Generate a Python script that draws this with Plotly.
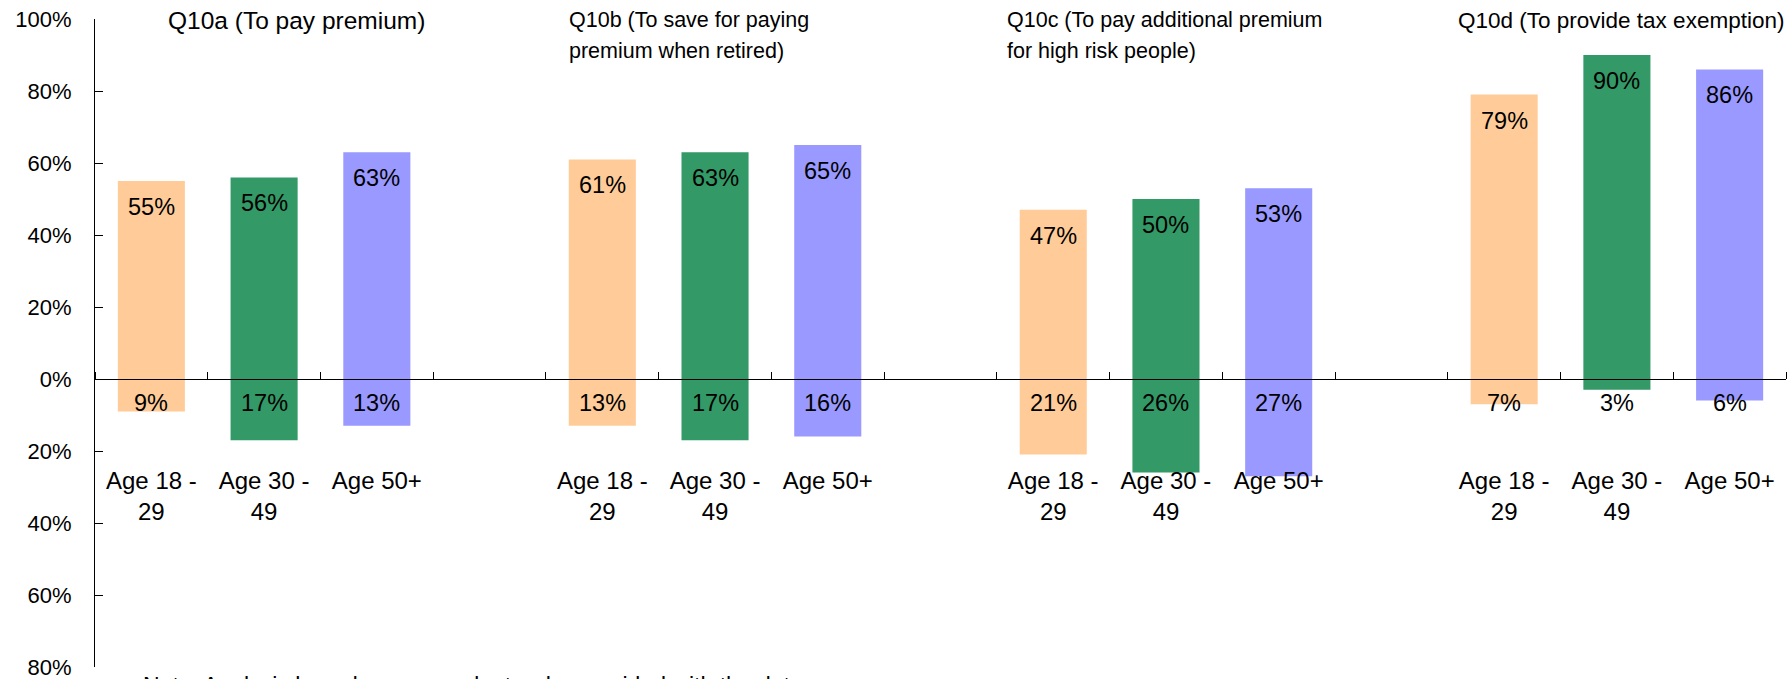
import plotly.graph_objects as go

# ---- data ----
questions = [["Q10a (To pay premium)"],
             ["Q10b (To save for paying", "premium when retired)"],
             ["Q10c (To pay additional premium", "for high risk people)"],
             ["Q10d (To provide tax exemption)"]]
age_groups = ["Age 18 -<br>29", "Age 30 -<br>49", "Age 50+"]
# positive share (above zero) per question, for each age group
pos_18_29 = [55, 61, 47, 79]
pos_30_49 = [56, 63, 50, 90]
pos_50p = [63, 65, 53, 86]
# negative share (below zero) per question, for each age group
neg_18_29 = [9, 13, 21, 7]
neg_30_49 = [17, 17, 26, 3]
neg_50p = [13, 16, 27, 6]

y_ticks = [-80, -60, -40, -20, 0, 20, 40, 60, 80, 100]
colors = ["#FFCC99", "#339966", "#9999FF"]
note = "Note: Analysis based on respondents who provided with the data"

FONT = "Liberation Sans, Arial, sans-serif"

# layout geometry
W, H = 1790, 679
ML, MR, MT, MB = 95, 4, 19, 12
PW, PH = W - ML - MR, H - MT - MB
YMIN, YMAX = -80, 100

pos_series = [pos_18_29, pos_30_49, pos_50p]
neg_series = [neg_18_29, neg_30_49, neg_50p]
n_q = len(questions)
n_cat = n_q * 4 - 1  # 3 bars + 1 gap per question

fig = go.Figure()
annotations = []
for gi, (pos, neg) in enumerate(zip(pos_series, neg_series)):
    xs = [qi * 4 + gi for qi in range(n_q)]
    fig.add_trace(go.Bar(
        x=xs, y=[p + n for p, n in zip(pos, neg)], base=[-n for n in neg],
        width=0.595, marker=dict(color=colors[gi], line=dict(width=0)),
        name=age_groups[gi].replace("<br>", " "), showlegend=False,
        hoverinfo="skip"))
    for x, p, n in zip(xs, pos, neg):
        annotations.append(dict(x=x, y=p, xref="x", yref="y", text=f"{p}%",
                                showarrow=False, yanchor="middle", yshift=-26,
                                font=dict(family=FONT, size=23.5, color="#000")))
        annotations.append(dict(x=x, y=0, xref="x", yref="y", text=f"{n}%",
                                showarrow=False, yanchor="middle", yshift=-24,
                                font=dict(family=FONT, size=23.5, color="#000")))

# question titles (left pixel positions, line centre pixel rows)
title_px = [166, 567, 1005, 1456]
title_sizes = [24.5, 21.5, 21.5, 22.5]
line_py = [20, 51]
for lines, px, fs in zip(questions, title_px, title_sizes):
    for line, py in zip(lines, line_py):
        annotations.append(dict(x=(px - ML) / PW, y=(H - MB - py) / PH, xref="paper", yref="paper",
                                text=line, showarrow=False, xanchor="left", yanchor="middle",
                                align="left", font=dict(family=FONT, size=fs, color="#000")))

annotations.append(dict(x=(141 - ML) / PW, y=-4 / PH, xref="paper", yref="paper",
                        text=note, showarrow=False, xanchor="left", yanchor="top",
                        font=dict(family=FONT, size=23, color="#000")))

tickvals_x = [qi * 4 + gi for qi in range(n_q) for gi in range(3)]
ticktext_x = [age_groups[gi] for qi in range(n_q) for gi in range(3)]

fig.update_layout(
    width=W, height=H,
    margin=dict(l=ML, r=MR, t=MT, b=MB, autoexpand=False),
    paper_bgcolor="white", plot_bgcolor="white",
    barmode="overlay",
    annotations=annotations,
    font=dict(family=FONT, size=22, color="#000"),
    xaxis=dict(range=[-0.5, n_cat - 0.5], tickmode="array", tickvals=tickvals_x, ticktext=ticktext_x,
               ticks="", showgrid=False, zeroline=False, showline=True, linecolor="#000", linewidth=1,
               anchor="free", position=(0 - YMIN) / (YMAX - YMIN),
               ticklabelstandoff=80, tickfont=dict(family=FONT, size=24, color="#000"),
               minor=dict(tickmode="linear", tick0=-0.5, dtick=1, ticks="inside", ticklen=7,
                          tickcolor="#000", tickwidth=1, showgrid=False),
               fixedrange=True),
    yaxis=dict(range=[YMIN, YMAX], tickmode="array", tickvals=y_ticks,
               ticktext=[f"{abs(v)}%" for v in y_ticks], ticks="inside", ticklen=8,
               tickcolor="#000", showgrid=False, zeroline=False, showline=True,
               linecolor="#000", linewidth=1, tickfont=dict(family=FONT, size=22, color="#000"),
               ticklabelstandoff=18, ticklabeloverflow="allow", fixedrange=True),
)

fig.write_html("out.html", config={"displayModeBar": False},
               post_script="document.body.style.margin='0';document.body.style.overflow='hidden';")
